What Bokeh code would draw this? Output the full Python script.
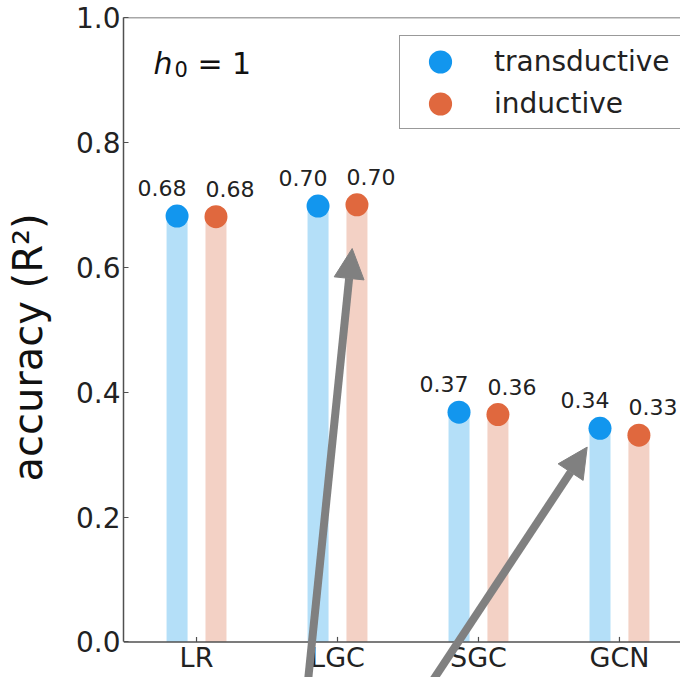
from bokeh.plotting import figure
from bokeh.models import (ColumnDataSource, LabelSet, Label, Legend, LegendItem, Span,
                          Arrow, NormalHead, PrintfTickFormatter)
from bokeh.core.properties import value
from bokeh.embed import file_html
from bokeh.resources import INLINE

# ---- data ----
methods = ["LR", "LGC", "SGC", "GCN"]
transductive = [0.682, 0.698, 0.368, 0.342]
inductive = [0.681, 0.700, 0.364, 0.331]
transductive_labels = ["0.68", "0.70", "0.37", "0.34"]
inductive_labels = ["0.68", "0.70", "0.36", "0.33"]
y_ticks = [0.0, 0.2, 0.4, 0.6, 0.8, 1.0]
arrow_x_start = [0.792, 1.681]
arrow_y_start = [-0.06, -0.06]
arrow_x_end = [1.104, 2.771]
arrow_y_end = [0.630, 0.312]

FONT = "DejaVu Sans"
BLUE = "#1296EE"
ORANGE = "#E0683E"
LBLUE = "#B4DFF8"
LORANGE = "#F3D1C5"
AXC = "#505050"
TXT = "#222222"
OFF = 0.138
BAR_W = 0.149

pos = list(range(len(methods)))
x_t = [i - OFF for i in pos]
x_i = [i + OFF for i in pos]

src_t = ColumnDataSource(dict(x=x_t, y=transductive, lab=transductive_labels))
src_i = ColumnDataSource(dict(x=x_i, y=inductive, lab=inductive_labels))
src_m = ColumnDataSource(dict(x=pos, y=[0.0] * len(pos), m=methods))

p = figure(width=680, height=677, x_range=(-0.518, 3.433), y_range=(-0.057, 1.0),
           output_backend="svg", toolbar_location=None,
           min_border_left=123, min_border_top=17, min_border_bottom=0, min_border_right=0)
p.outline_line_color = None
p.grid.visible = False
p.background_fill_color = "white"
p.xaxis.visible = False

# bars (stems) and dots
p.vbar(x="x", top="y", bottom=0, width=BAR_W, source=src_t, color=LBLUE, line_color=None)
p.vbar(x="x", top="y", bottom=0, width=BAR_W, source=src_i, color=LORANGE, line_color=None)
r_t = p.ellipse(x="x", y="y", width=23, height=23, width_units="screen", height_units="screen",
                source=src_t, color=BLUE, line_color=None)
r_i = p.ellipse(x="x", y="y", width=23, height=23, width_units="screen", height_units="screen",
                source=src_i, color=ORANGE, line_color=None)

# value labels
p.add_layout(LabelSet(x="x", y="y", text="lab", source=src_t, x_offset=-15, y_offset=20,
                      text_align="center", text_baseline="alphabetic",
                      text_font=value(FONT), text_font_size="22px", text_color=TXT))
p.add_layout(LabelSet(x="x", y="y", text="lab", source=src_i, x_offset=14, y_offset=20,
                      text_align="center", text_baseline="alphabetic",
                      text_font=value(FONT), text_font_size="22px", text_color=TXT))

# y axis
ya = p.yaxis[0]
ya.bounds = (0, 1)
ya.axis_line_color = AXC
ya.axis_line_width = 1.5
ya.major_tick_line_color = AXC
ya.major_tick_line_width = 1.2
ya.major_tick_in = 5
ya.major_tick_out = 0
ya.minor_tick_line_color = None
ya.major_label_text_font = FONT
ya.major_label_text_color = TXT
ya.ticker = y_ticks
ya.formatter = PrintfTickFormatter(format="%.1f")
ya.major_label_text_font_size = "28px"
ya.major_label_standoff = 3
ya.axis_label = "accuracy (R²)"
ya.axis_label_text_font = FONT
ya.axis_label_text_font_size = "40px"
ya.axis_label_text_font_style = "normal"
ya.axis_label_text_color = "#111111"
ya.axis_label_standoff = 22

# x axis: line at y=0, inward ticks, category labels
p.add_layout(Span(location=0.0, dimension="width", line_color=AXC, line_width=1.5))
p.segment(x0="x", y0="y", x1="x", y1=0.008, source=src_m, line_color=AXC, line_width=1.2)
p.add_layout(LabelSet(x="x", y="y", text="m", source=src_m, y_offset=0,
                      text_align="center", text_baseline="top",
                      text_font=value(FONT), text_font_size="27px", text_color=TXT))

# top spine
p.add_layout(Span(location=1.0, dimension="width", line_color=AXC, line_width=1.5))

# h0 = 1 annotation
p.add_layout(Label(x=-0.306, y=0.927, text="h", text_font=FONT, text_font_style="italic",
                   text_font_size="30px", text_color="#111111", text_baseline="alphabetic"))
p.add_layout(Label(x=-0.306, y=0.927, x_offset=21, y_offset=-6, text="0", text_font=FONT,
                   text_font_size="21px", text_color="#111111", text_baseline="alphabetic"))
p.add_layout(Label(x=-0.306, y=0.927, x_offset=44, text="= 1", text_font=FONT,
                   text_font_size="30px", text_color="#111111", text_baseline="alphabetic"))

# legend
legend = Legend(items=[LegendItem(label="transductive", renderers=[r_t]),
                       LegendItem(label="inductive", renderers=[r_i])],
                location=(276, 548), glyph_width=64, glyph_height=29, label_height=34,
                padding=8, spacing=8,
                label_standoff=22, label_width=184, label_text_font=FONT,
                label_text_font_size="28px", label_text_color=TXT,
                border_line_color="#333333", border_line_width=1.5,
                background_fill_color="white", background_fill_alpha=1.0, margin=0)
p.add_layout(legend)

# arrows
src_a = ColumnDataSource(dict(x0=arrow_x_start, y0=arrow_y_start, x1=arrow_x_end, y1=arrow_y_end))
p.add_layout(Arrow(source=src_a, x_start="x0", y_start="y0", x_end="x1", y_end="y1",
                   line_color="#808080", line_width=8,
                   end=NormalHead(size=30, fill_color="#808080", line_color="#808080")))

open("out.html", "w").write(file_html(p, INLINE))
